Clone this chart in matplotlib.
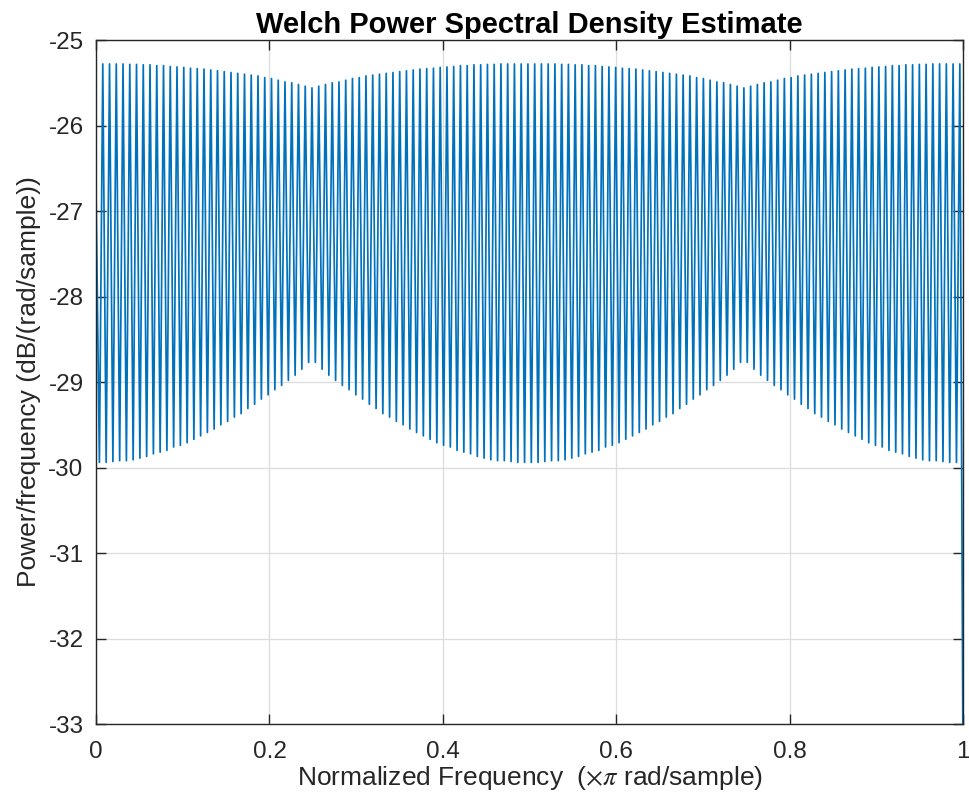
# -*- coding: utf-8 -*-
import numpy as np
import matplotlib
matplotlib.use("Agg")
import matplotlib.pyplot as plt

plt.rcParams['font.family'] = ['Liberation Sans', 'DejaVu Sans']
plt.rcParams['axes.unicode_minus'] = False
plt.rcParams['mathtext.fontset'] = 'stix'

# Welch PSD (dB/(rad/sample)).
# the two halves 0..0.5 and 0.5..1 look identical, so one half is listed
start_value = -26.75
end_value = -34.0

# ripple maxima, one per cycle, first half (64 cycles)
peaks_half = [
    -25.28, -25.28, -25.28, -25.28, -25.285, -25.285, -25.29, -25.29,
    -25.30, -25.30, -25.31, -25.315, -25.32, -25.33, -25.335, -25.34,
    -25.35, -25.36, -25.37, -25.38, -25.39, -25.40, -25.41, -25.42,
    -25.44, -25.45, -25.47, -25.49, -25.50, -25.52, -25.54, -25.56,
    -25.54, -25.52, -25.50, -25.49, -25.47, -25.45, -25.44, -25.42,
    -25.41, -25.40, -25.39, -25.38, -25.37, -25.36, -25.35, -25.34,
    -25.335, -25.33, -25.32, -25.315, -25.31, -25.30, -25.30, -25.29,
    -25.29, -25.285, -25.285, -25.28, -25.28, -25.28, -25.28, -25.28,
]

# ripple minima, one per cycle, first half
troughs_half = [
    -29.94, -29.94, -29.93, -29.92, -29.92, -29.91, -29.89, -29.87,
    -29.84, -29.82, -29.80, -29.76, -29.74, -29.71, -29.67, -29.63,
    -29.59, -29.55, -29.50, -29.46, -29.41, -29.37, -29.31, -29.26,
    -29.20, -29.15, -29.09, -29.04, -28.98, -28.92, -28.85, -28.77,
    -28.77, -28.85, -28.92, -28.98, -29.04, -29.09, -29.15, -29.20,
    -29.26, -29.31, -29.37, -29.41, -29.46, -29.50, -29.55, -29.59,
    -29.63, -29.67, -29.71, -29.74, -29.76, -29.80, -29.82, -29.84,
    -29.87, -29.89, -29.91, -29.92, -29.92, -29.93, -29.94, -29.94,
]

yticks = [-25, -26, -27, -28, -29, -30, -31, -32, -33]
xticks = [0, 0.2, 0.4, 0.6, 0.8, 1]
xticklabels = ['0', '0.2', '0.4', '0.6', '0.8', '1']

# build the trace: start, trough, peak, trough, peak, ..., end
peaks = peaks_half + peaks_half
troughs = troughs_half + troughs_half
psd = [start_value]
for t, p in zip(troughs, peaks):
    psd.append(t)
    psd.append(p)
psd.append(end_value)
psd = np.array(psd)
freq = np.linspace(0, 1, len(psd))

fig = plt.figure(figsize=(9.7, 8.05), dpi=100)
ax = fig.add_axes([0.099, 0.1006, 0.894, 0.8497])

ax.plot(freq, psd, color='#0072BD', lw=1.25)

ax.set_xlim(0, 1)
ax.set_ylim(-33, -25)
ax.set_xticks(xticks)
ax.set_xticklabels(xticklabels)
ax.set_yticks(yticks)

ax.grid(True, color='#dcdcdc', lw=0.9)
ax.set_axisbelow(True)
ax.tick_params(direction='in', length=7, width=1, colors='#262626',
               labelsize=17.5, top=True, right=True)
ax.tick_params(axis='y', pad=9)
ax.tick_params(axis='x', pad=12)
for s in ax.spines.values():
    s.set_color('#262626')
    s.set_linewidth(1.0)

ax.set_title('Welch Power Spectral Density Estimate', fontsize=21,
             fontweight='bold', pad=5)
ax.set_xlabel(r'Normalized Frequency  ($\times\pi$ rad/sample)', fontsize=19,
              color='#262626', labelpad=1)
ax.set_ylabel('Power/frequency (dB/(rad/sample))', fontsize=19,
              color='#262626', labelpad=5)

fig.savefig('out.png', dpi=100)
